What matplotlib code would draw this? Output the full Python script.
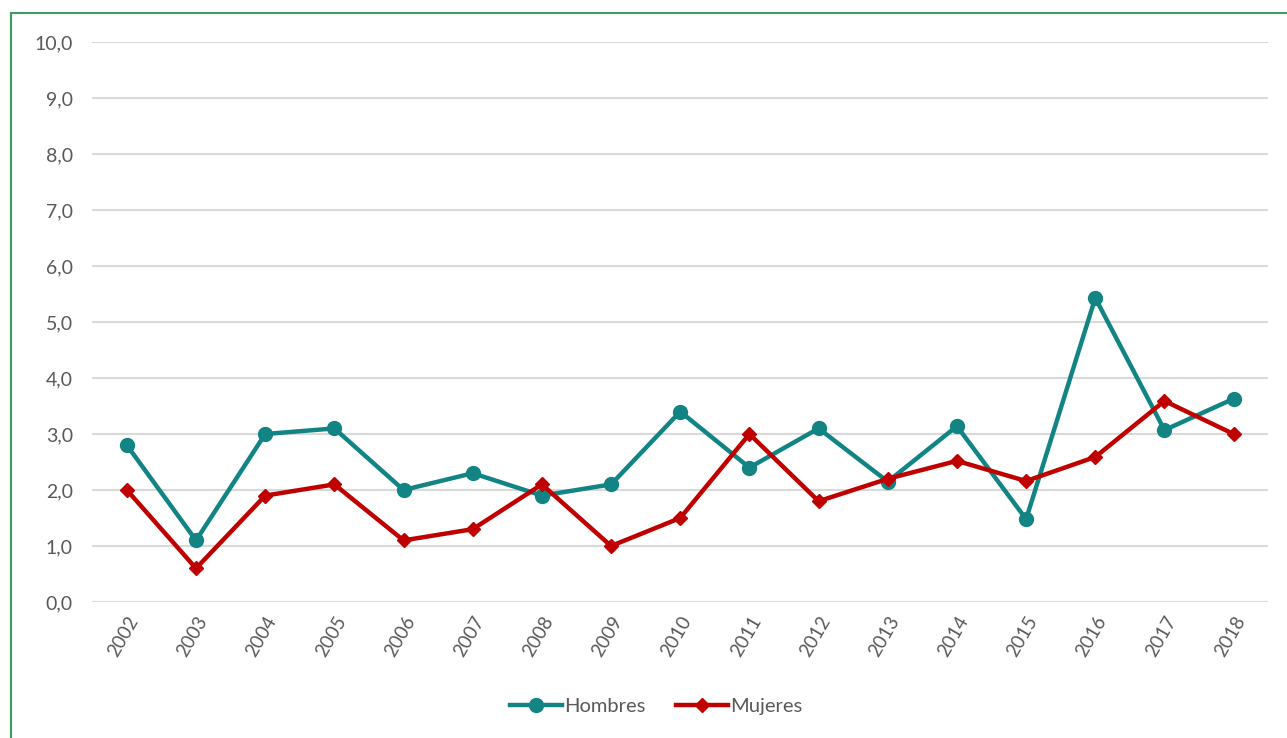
import matplotlib.pyplot as plt
from matplotlib.patches import Rectangle

# data
years = [str(y) for y in range(2002, 2019)]
hombres = [2.8, 1.1, 3.0, 3.1, 2.0, 2.3, 1.9, 2.1, 3.4, 2.4, 3.1, 2.15, 3.14, 1.48, 5.43, 3.07, 3.63]
mujeres = [2.0, 0.6, 1.9, 2.1, 1.1, 1.3, 2.1, 1.0, 1.5, 3.0, 1.8, 2.2, 2.52, 2.16, 2.59, 3.59, 3.0]
yticks = [0, 1, 2, 3, 4, 5, 6, 7, 8, 9, 10]

plt.rcParams['font.family'] = ['Lato', 'DejaVu Sans']

fig = plt.figure(figsize=(12.87, 7.38), dpi=100)
ax = fig.add_axes([0.0717, 0.1843, 0.9137, 0.7587])

x = list(range(len(years)))
ax.plot(x, hombres, color='#138484', lw=3.2, marker='o', ms=10, label='Hombres', zorder=3)
ax.plot(x, mujeres, color='#c00000', lw=3.2, marker='D', ms=7, label='Mujeres', zorder=3)

ax.set_xlim(-0.5, len(years) - 0.5)
ax.set_ylim(0, 10)
ax.set_yticks(yticks)
ax.set_yticklabels([f'{v:.1f}'.replace('.', ',') for v in yticks], fontsize=14, color='#595959')
ax.set_xticks(x)
ax.set_xticklabels(years, rotation=60, fontsize=13.5, color='#595959', ha='right', rotation_mode='anchor')
ax.tick_params(axis='both', length=0)
ax.tick_params(axis='y', pad=14)
ax.tick_params(axis='x', pad=8)
ax.grid(axis='y', color='#d9d9d9', lw=1.5)
ax.set_axisbelow(True)
for s in ax.spines.values():
    s.set_visible(False)

fig.legend(loc='center', bbox_to_anchor=(0.51, 0.043), ncol=2, frameon=False,
           fontsize=14.5, labelcolor='#595959', handlelength=2.6, handletextpad=0.1, columnspacing=1.5)

# green frame around the chart
fig.patches.append(Rectangle((11 / 1287, -0.1), 1.2, 1 - 13 / 738 + 0.1, transform=fig.transFigure,
                             fill=False, edgecolor='#3a9e64', lw=1.5))

fig.savefig('out.png', dpi=100)
